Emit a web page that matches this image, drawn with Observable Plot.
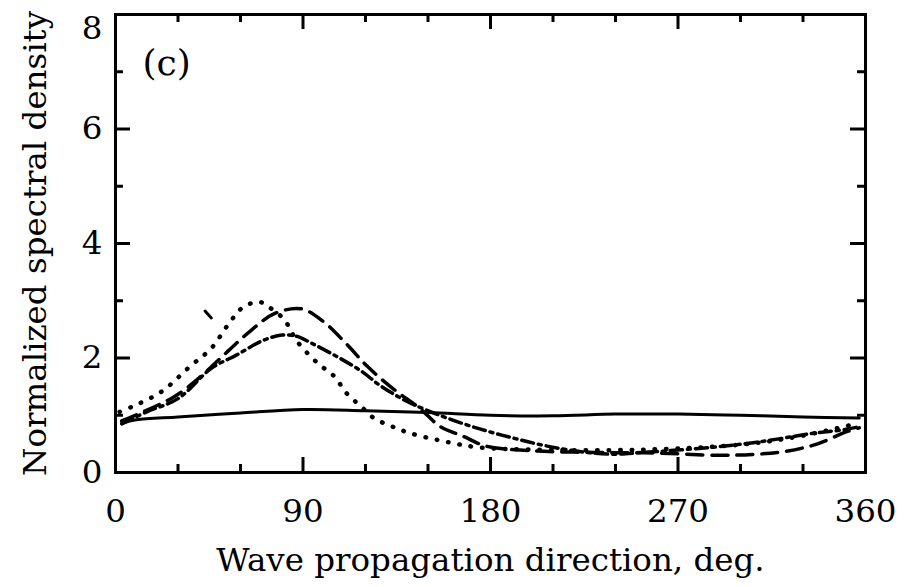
<!DOCTYPE html>
<html><head><meta charset="utf-8">
<script src="https://cdn.jsdelivr.net/npm/d3@7"></script>
<script src="https://cdn.jsdelivr.net/npm/@observablehq/plot@0.6"></script>
<style>
body{margin:0;background:#fff;}
</style>
</head><body><div id="chart"></div>
<script>
// Data
const solidDir = [3, 10, 30, 60, 90, 120, 150, 180, 210, 240, 270, 300, 330, 357];
const solidVal = [0.86, 0.92, 0.97, 1.04, 1.1, 1.08, 1.05, 1.0, 0.99, 1.02, 1.02, 1.0, 0.97, 0.95];

const dottedDir = [2, 8, 22, 36, 46, 54, 61, 69, 74, 81, 87, 97, 105, 111, 118, 124, 133, 142, 157, 174, 200, 238, 270, 301, 325, 346, 355];
const dottedVal = [1.06, 1.15, 1.41, 1.86, 2.17, 2.58, 2.88, 2.98, 2.88, 2.67, 2.3, 1.91, 1.68, 1.38, 1.15, 0.95, 0.8, 0.68, 0.55, 0.44, 0.4, 0.39, 0.42, 0.49, 0.61, 0.77, 0.85];

const dashedDir = [3, 28, 41, 54, 65, 76, 89, 100, 111, 121, 133, 146, 156, 167, 178, 200, 230, 260, 290, 308, 322, 337, 350, 357];
const dashedVal = [0.9, 1.32, 1.68, 2.12, 2.48, 2.77, 2.86, 2.63, 2.24, 1.85, 1.47, 1.12, 0.8, 0.63, 0.46, 0.38, 0.35, 0.34, 0.3, 0.32, 0.37, 0.5, 0.7, 0.78];

const dashDotDir = [3, 15, 30, 46, 58, 71, 80, 87, 94, 106, 118, 127, 140, 157, 174, 190, 206, 222, 238, 253, 286, 310, 334, 350, 357];
const dashDotVal = [0.85, 1.06, 1.29, 1.82, 2.05, 2.31, 2.4, 2.38, 2.26, 2.03, 1.77, 1.52, 1.24, 0.98, 0.77, 0.61, 0.47, 0.37, 0.32, 0.35, 0.44, 0.54, 0.68, 0.75, 0.8];

// lone stray dash visible in the reference
const strayDir = [43, 46];
const strayVal = [2.82, 2.70];

const xTicks = [0, 90, 180, 270, 360];
const xMinor = [30, 60, 120, 150, 210, 240, 300, 330];
const yTicks = [0, 2, 4, 6, 8];
const yTicksLow = [0, 2, 4, 6];
const yTickTop = [8];
const yMinor = [1, 3, 5, 7];
const xLabel = "Wave propagation direction, deg.";
const yLabel = "Normalized spectral density";
const panelLabel = "(c)";

const pts = (xs, ys) => xs.map((x, i) => ({x, y: ys[i]}));

const W = 906, H = 587, ML = 115, MR = 41, MT = 14, MB = 115;
const FW = W - ML - MR, FH = H - MT - MB;
const major = 15, minor = 8;
const serif = "DejaVu Serif";
const fs = 32.5;

const chart = Plot.plot({
  width: W, height: H,
  marginLeft: ML, marginRight: MR, marginTop: MT, marginBottom: MB,
  style: {fontSize: "32px", fontFamily: serif, color: "black", background: "white"},
  x: {domain: [0, 360]},
  y: {domain: [0, 8]},
  marks: [
    Plot.tickX(xTicks, {x: d => d, insetTop: FH - major, stroke: "black", strokeWidth: 3}),
    Plot.tickX(xMinor, {x: d => d, insetTop: FH - minor, stroke: "black", strokeWidth: 3}),
    Plot.tickX(xTicks, {x: d => d, insetBottom: FH - major, stroke: "black", strokeWidth: 3}),
    Plot.tickX(xMinor, {x: d => d, insetBottom: FH - minor, stroke: "black", strokeWidth: 3}),
    Plot.tickY(yTicks, {y: d => d, insetRight: FW - major, stroke: "black", strokeWidth: 3}),
    Plot.tickY(yMinor, {y: d => d, insetRight: FW - minor, stroke: "black", strokeWidth: 3}),
    Plot.tickY(yTicks, {y: d => d, insetLeft: FW - major, stroke: "black", strokeWidth: 3}),
    Plot.tickY(yMinor, {y: d => d, insetLeft: FW - minor, stroke: "black", strokeWidth: 3}),
    Plot.axisX({ticks: xTicks, tickSize: 0, tickPadding: 26, fontFamily: serif, fontSize: fs, label: xLabel, labelAnchor: "center", labelOffset: 98, labelArrow: "none"}),
    Plot.axisY({ticks: yTicksLow, tickSize: 0, tickPadding: 13, fontFamily: serif, fontSize: fs, label: null}),
    Plot.axisY({ticks: yTickTop, tickSize: 0, tickPadding: 13, dy: 14, fontFamily: serif, fontSize: fs, label: null}),
    Plot.axisY({ticks: [], tickSize: 0, dy: 7, fontFamily: serif, fontSize: fs, label: yLabel, labelAnchor: "center", labelOffset: 93, labelArrow: "none"}),
    Plot.line(pts(solidDir, solidVal), {x: "x", y: "y", curve: "catmull-rom", stroke: "black", strokeWidth: 3}),
    Plot.line(pts(dottedDir, dottedVal), {x: "x", y: "y", curve: "catmull-rom", stroke: "black", strokeWidth: 4.5, strokeDasharray: "0.5,11", strokeLinecap: "round"}),
    Plot.line(pts(dashedDir, dashedVal), {x: "x", y: "y", curve: "catmull-rom", stroke: "black", strokeWidth: 3.5, strokeDasharray: "16,9"}),
    Plot.line(pts(dashDotDir, dashDotVal), {x: "x", y: "y", curve: "catmull-rom", stroke: "black", strokeWidth: 3.5, strokeDasharray: "12,5,3,5"}),
    Plot.line(pts(strayDir, strayVal), {x: "x", y: "y", stroke: "black", strokeWidth: 3}),
    Plot.text([panelLabel], {frameAnchor: "top-left", dx: 27, dy: 35, textAnchor: "start", lineAnchor: "top", fontSize: 36, fontFamily: serif}),
    Plot.frame({stroke: "black", strokeWidth: 3})
  ]
});
document.getElementById("chart").appendChild(chart);
</script>
</body></html>
